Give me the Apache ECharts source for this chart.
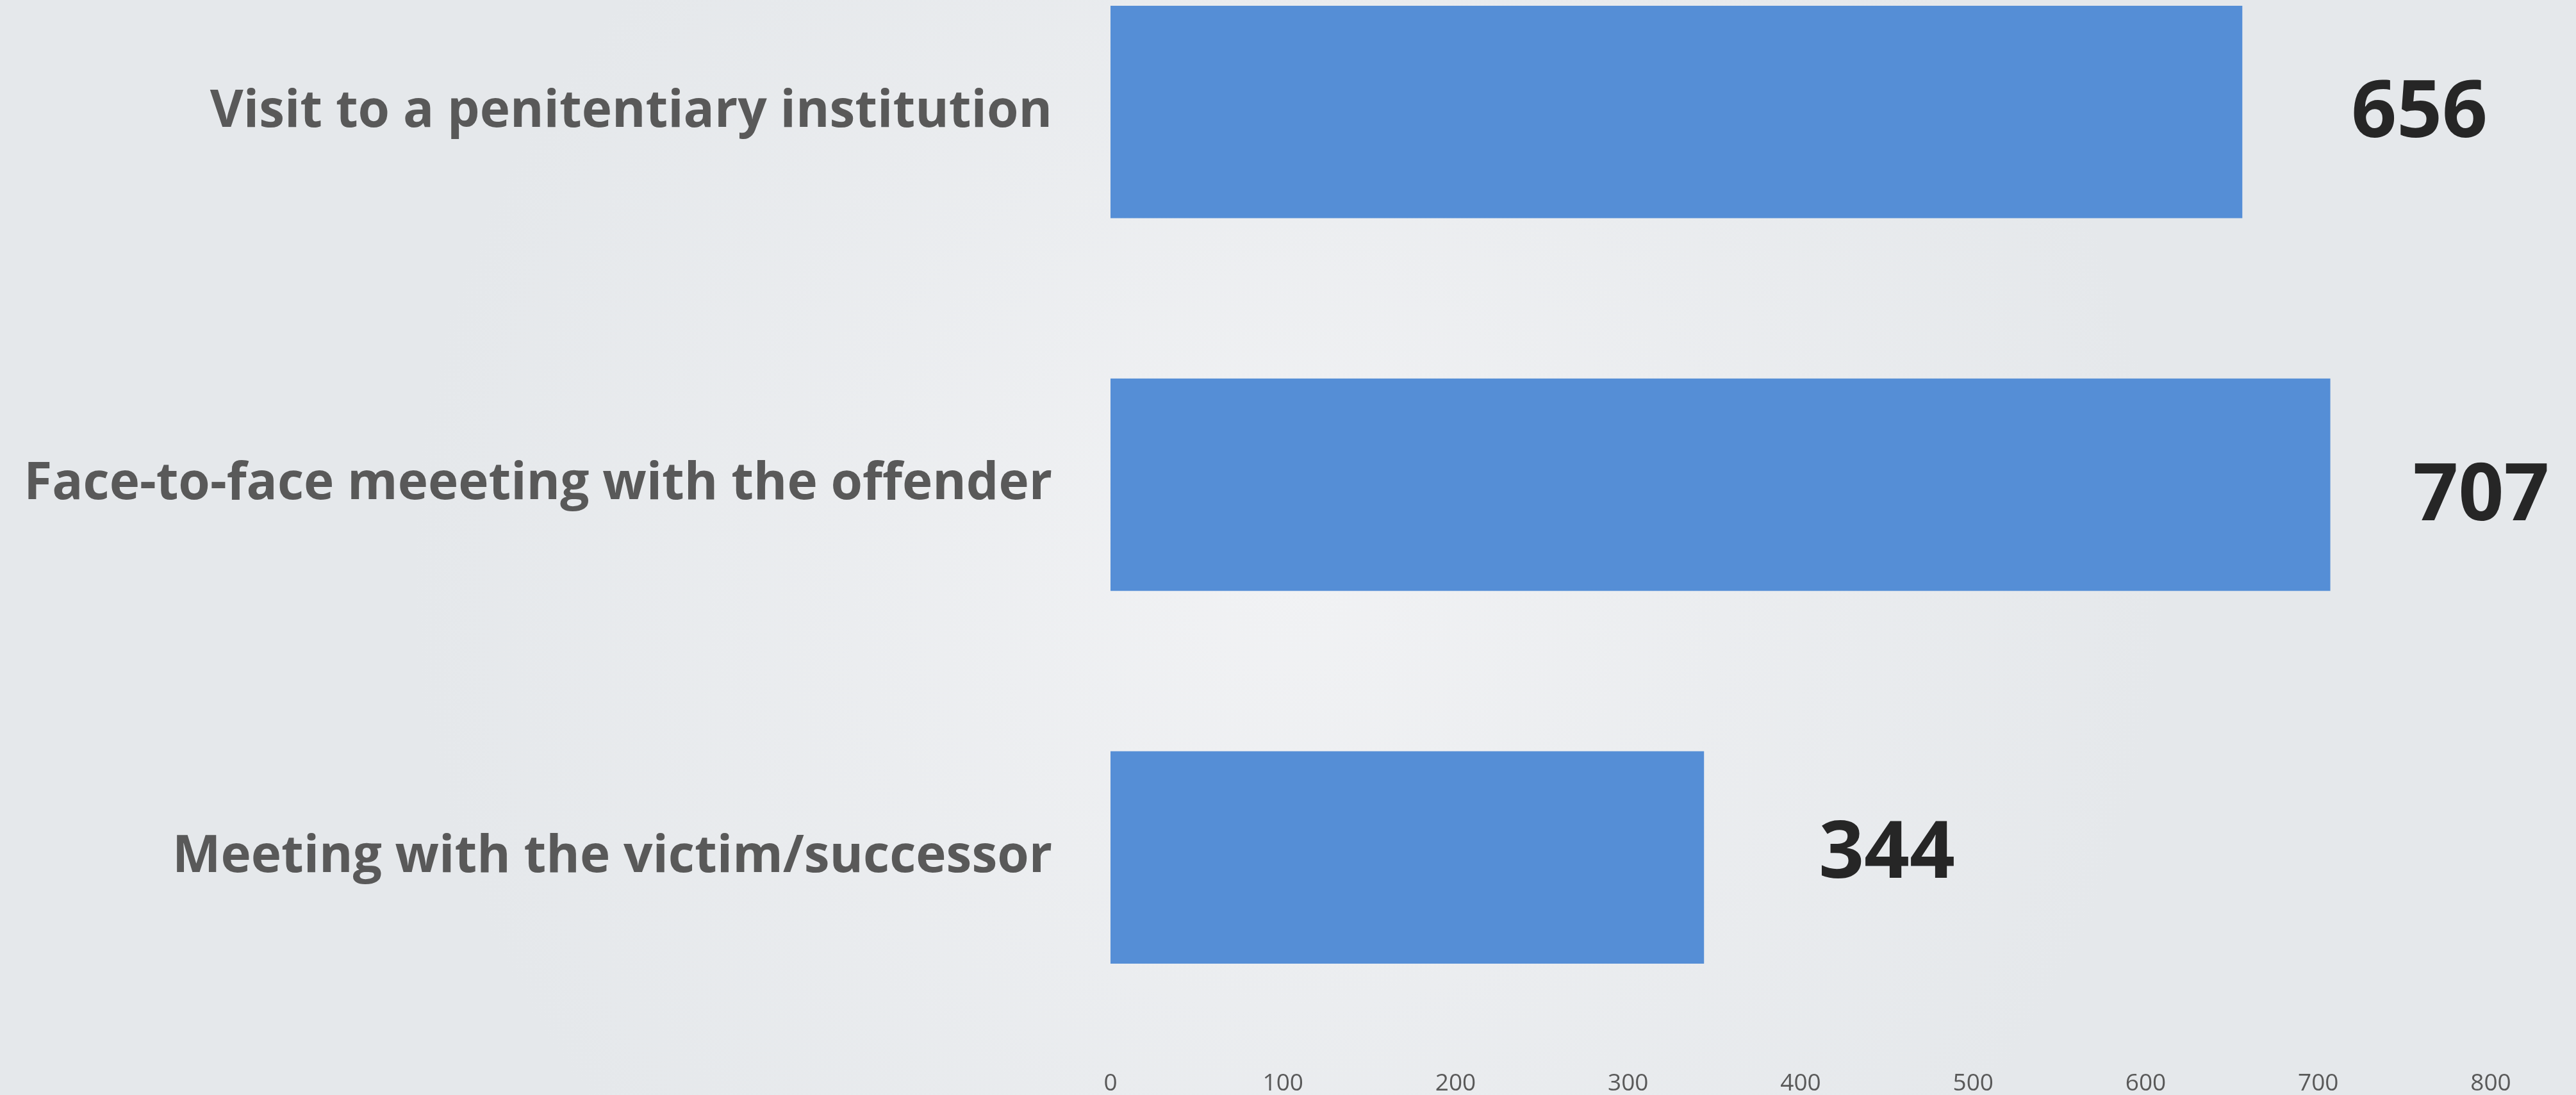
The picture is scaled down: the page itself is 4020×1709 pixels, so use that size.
<!DOCTYPE html>
<html>
<head>
<meta charset="utf-8">
<script src="https://cdn.jsdelivr.net/npm/echarts@6/dist/echarts.min.js"></script>
<style>
html,body{margin:0;padding:0;width:4020px;height:1709px;overflow:hidden;background:#eceef1;}
#chart{width:4020px;height:1826px;margin-top:-116px;}
</style>
</head>
<body>
<div id="chart"></div>
<script>
const categories = [
  "Visit to a penitentiary institution",
  "Face-to-face meeeting with the offender",
  "Meeting with the victim/successor"
];
const values = [656, 707, 344];
const xTicks = [0, 100, 200, 300, 400, 500, 600, 700, 800];

const chart = echarts.init(document.getElementById('chart'));
const labelDist = [170, 129, 179];
const labelOff = [[0, 4], [0, 20], [0, -3]];
chart.setOption({
  backgroundColor: {
    type: 'radial', x: 0.5, y: 0.55, r: 0.75,
    colorStops: [
      { offset: 0, color: '#f1f2f4' },
      { offset: 1, color: '#e5e8eb' }
    ]
  },
  animation: false,
  grid: { left: 1733, right: 133, top: 0, bottom: 70, containLabel: false },
  xAxis: {
    type: 'value',
    min: xTicks[0],
    max: xTicks[xTicks.length - 1],
    interval: xTicks[1] - xTicks[0],
    axisLine: { show: false },
    axisTick: { show: false },
    splitLine: { show: false },
    axisLabel: {
      margin: 44,
      fontFamily: 'Open Sans',
      fontSize: 37,
      color: '#595959'
    }
  },
  yAxis: {
    type: 'category',
    inverse: true,
    data: categories,
    axisLine: { show: false },
    axisTick: { show: false },
    splitLine: { show: false },
    axisLabel: {
      margin: 91,
      fontFamily: 'Open Sans',
      fontWeight: 700,
      fontSize: 80,
      color: '#595959'
    }
  },
  series: [{
    type: 'bar',
    barCategoryGap: '43%',
    itemStyle: { color: '#558ed6' },
    data: values.map((v, i) => ({
      value: v,
      label: { distance: labelDist[i], offset: labelOff[i] }
    })),
    label: {
      show: true,
      position: 'right',
      fontFamily: 'Open Sans',
      fontWeight: 700,
      fontSize: 124,
      color: '#262626'
    }
  }]
});
</script>
</body>
</html>
